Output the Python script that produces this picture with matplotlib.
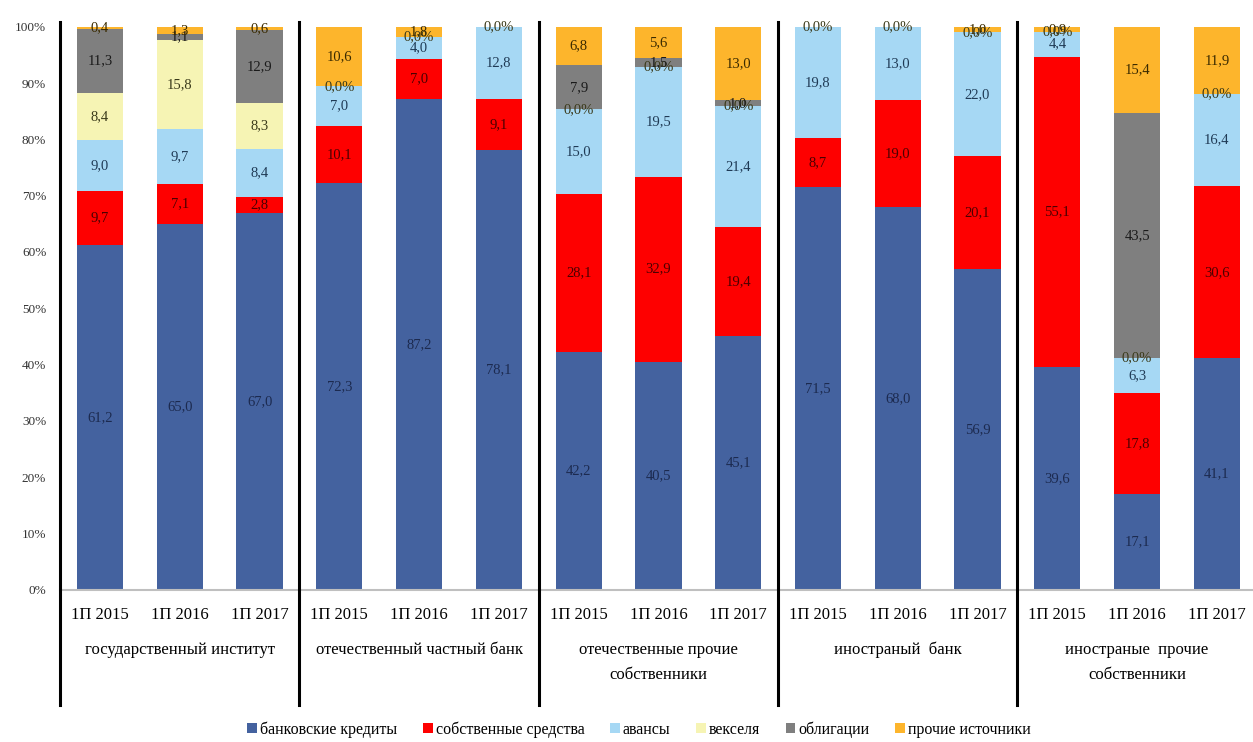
"""Stacked 100% bars: structure of investment financing sources by owner type."""

import numpy as np
import matplotlib.pyplot as plt
import matplotlib.transforms as mtransforms

plt.rcParams["font.family"] = ["Liberation Serif", "DejaVu Serif"]

groups = [
    "государственный институт",
    "отечественный частный банк",
    "отечественные прочие\nсобственники",
    "иностраный  банк",
    "иностраные  прочие\nсобственники",
]
periods = ["1П 2015", "1П 2016", "1П 2017"]

series_names = [
    "банковские кредиты",
    "собственные средства",
    "авансы",
    "векселя",
    "облигации",
    "прочие источники",
]
series_colors = ["#44629f", "#fe0000", "#a6d8f4", "#f6f4b4", "#7f7f7f", "#fdb52c"]

# values per bar, in order: 5 groups x 3 periods
bank_credits = [61.2, 65.0, 67.0, 72.3, 87.2, 78.1, 42.2, 40.5, 45.1, 71.5, 68.0, 56.9, 39.6, 17.1, 41.1]
own_funds = [9.7, 7.1, 2.8, 10.1, 7.0, 9.1, 28.1, 32.9, 19.4, 8.7, 19.0, 20.1, 55.1, 17.8, 30.6]
advances = [9.0, 9.7, 8.4, 7.0, 4.0, 12.8, 15.0, 19.5, 21.4, 19.8, 13.0, 22.0, 4.4, 6.3, 16.4]
bills = [8.4, 15.8, 8.3, 0.0, 0.0, 0.0, 0.0, 0.0, 0.0, 0.0, 0.0, 0.0, 0.0, 0.0, 0.0]
bonds = [11.3, 1.1, 12.9, 0.0, 0.0, 0.0, 7.9, 1.5, 1.0, 0.0, 0.0, 0.0, 0.0, 43.5, 0.0]
other_sources = [0.4, 1.3, 0.6, 10.6, 1.8, 0.0, 6.8, 5.6, 13.0, 0.0, 0.0, 1.0, 0.9, 15.4, 11.9]

label_colors = ["#1c2a4f", "#4a0000", "#1f3a55", "#3a3a1a", "#1a1a1a", "#3a2a00"]


def fmt(v):
    if v == 0:
        return "0,0%"
    return ("%.1f" % v).replace(".", ",")


fig = plt.figure(figsize=(12.53, 7.42), dpi=100)
ax = fig.add_axes([0.048, 0.205, 0.955, 0.759])

data = [bank_credits, own_funds, advances, bills, bonds, other_sources]
x = np.arange(len(bank_credits))
bottom = np.zeros(len(x))
placed = set()
for values, name, color, lcolor in zip(data, series_names, series_colors, label_colors):
    values = np.array(values)
    ax.bar(x, values, 0.58, bottom=bottom, color=color, label=name, zorder=2)
    for xi, b, v in zip(x, bottom, values):
        key = (xi, round(b + v / 2, 2), fmt(v))
        if key in placed:
            # identical zero labels stacked on one spot, draw once
            continue
        placed.add(key)
        ax.text(xi, b + v / 2, fmt(v), ha="center", va="center",
                fontsize=10.5, color=lcolor, zorder=3)
    bottom += values

ax.set_xlim(-0.5, len(x) - 0.5)
ax.set_ylim(0, 100)
ax.set_yticks(np.arange(0, 101, 10))
ax.set_yticklabels(["%d%%" % v for v in range(0, 101, 10)], fontsize=9.5, color="#333333")
ax.set_xticks(x)
ax.set_xticklabels(periods * len(groups), fontsize=12)
ax.tick_params(axis="both", length=0)
ax.tick_params(axis="x", pad=12)
ax.tick_params(axis="y", pad=10)
for side in ["top", "right", "left"]:
    ax.spines[side].set_visible(False)
ax.spines["bottom"].set_color("#bfbfbf")
ax.spines["bottom"].set_linewidth(1.5)

# group separators reaching down under the category labels
trans = mtransforms.blended_transform_factory(ax.transData, ax.transAxes)
for sep in [-0.5, 2.5, 5.5, 8.5, 11.5]:
    ax.plot([sep, sep], [1.008, -0.205], transform=trans, color="black",
            linewidth=2.2, clip_on=False, zorder=4)

for gi, name in enumerate(groups):
    ax.text(gi * 3 + 1, -0.092, name, transform=trans, ha="center", va="top",
            fontsize=12, linespacing=1.8)

fig.legend(loc="center", bbox_to_anchor=(0.51, 0.017), ncol=6, frameon=False,
           fontsize=11.5, handlelength=0.6, handleheight=0.6, handletextpad=0.2,
           columnspacing=1.6)

fig.savefig("out.png", dpi=100)
